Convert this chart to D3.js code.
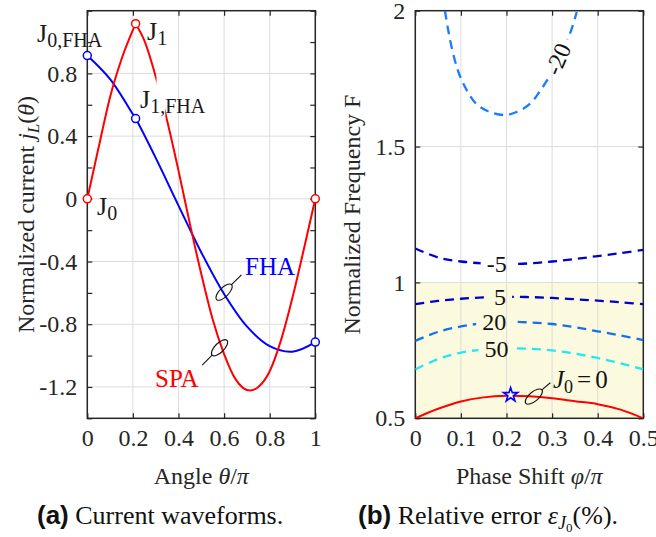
<!DOCTYPE html>
<html><head><meta charset="utf-8">
<script src="https://cdn.jsdelivr.net/npm/d3@7"></script>
<style>
body{margin:0;background:#fff}
svg{display:block}
text{font-family:"Liberation Serif","Times New Roman",serif;fill:#262626}
</style></head><body>
<svg id="c" width="656" height="537"></svg>
<script>
// ---------- (a) Current waveforms ----------
const thetaFHA = [0, 0.1, 0.2, 0.212, 0.3, 0.4, 0.5, 0.6, 0.7, 0.8, 0.9, 1.0];
const jFHA     = [0.914, 0.763, 0.539, 0.512, 0.261, -0.043, -0.342, -0.607, -0.814, -0.940, -0.975, -0.914];
const thetaSPArise = [0, 0.05, 0.1, 0.15, 0.212];
const jSPArise     = [0, 0.33, 0.65, 0.89, 1.117];
const thetaSPAfall = [0.212, 0.25, 0.30, 0.35, 0.40, 0.45, 0.50, 0.55, 0.60, 0.65, 0.714, 0.75, 0.80, 0.85, 0.90, 0.95, 1.0];
const jSPAfall     = [1.117, 1.01, 0.78, 0.50, 0.18, -0.16, -0.48, -0.77, -0.99, -1.15, -1.223, -1.20, -1.10, -0.90, -0.63, -0.32, 0];
const markThetaSPA = [0, 0.212, 1];
const markJSPA     = [0, 1.117, 0];
const markThetaFHA = [0, 0.212, 1];
const markJFHA     = [0.914, 0.512, -0.914];
const xTicksA  = [0, 0.2, 0.4, 0.6, 0.8, 1];
const xLabelsA = ["0", "0.2", "0.4", "0.6", "0.8", "1"];
const yMajorA  = [-1.2, -0.8, -0.4, 0, 0.4, 0.8];
const yLabelsA = ["-1.2", "-0.8", "-0.4", "0", "0.4", "0.8"];
const yMinorA  = [-1.4, -1.2, -1.0, -0.8, -0.6, -0.4, -0.2, 0, 0.2, 0.4, 0.6, 0.8, 1.0, 1.2];

// ---------- (b) Relative error contours ----------
const phiGrid = [0, 0.05, 0.1, 0.15, 0.2, 0.25, 0.3, 0.35, 0.4, 0.45, 0.5];
const F_m5  = [1.125, 1.092, 1.077, 1.070, 1.068, 1.070, 1.077, 1.086, 1.097, 1.108, 1.12];
const F_p5  = [0.920, 0.932, 0.940, 0.945, 0.947, 0.946, 0.943, 0.938, 0.933, 0.927, 0.920];
const F_p20 = [0.785, 0.818, 0.838, 0.850, 0.855, 0.853, 0.847, 0.835, 0.820, 0.805, 0.788];
const F_p50 = [0.680, 0.718, 0.742, 0.753, 0.757, 0.756, 0.750, 0.738, 0.722, 0.702, 0.680];
const F_J0  = [0.500, 0.535, 0.562, 0.577, 0.583, 0.581, 0.574, 0.563, 0.552, 0.532, 0.500];
const phiM20 = [0.065, 0.072, 0.083, 0.096, 0.113, 0.135, 0.164, 0.197, 0.222, 0.252, 0.277, 0.305, 0.325, 0.339, 0.354];
const F_m20  = [2.0, 1.93, 1.842, 1.768, 1.707, 1.655, 1.627, 1.616, 1.627, 1.658, 1.713, 1.79, 1.868, 1.915, 1.995];
const starPhi = [0.209];
const starF   = [0.586];
const xTicksB  = [0, 0.1, 0.2, 0.3, 0.4, 0.5];
const xLabelsB = ["0", "0.1", "0.2", "0.3", "0.4", "0.5"];
const yTicksB  = [0.5, 1, 1.5, 2];
const yLabelsB = ["0.5", "1", "1.5", "2"];
const zoneF = [0.5, 1.0];

const svg = d3.select("#c");
const AX = "#262626", GRID = "#dcdcdc";
const FS = 24;

const xA = d3.scaleLinear().domain([0, 1]).range([87.3, 315.3]);
const yA = d3.scaleLinear().domain([-1.4, 1.2]).range([418.3, 10.7]);
const xB = d3.scaleLinear().domain([0, 0.5]).range([415.3, 643.3]);
const yB = d3.scaleLinear().domain([0.5, 2]).range([418.3, 10.7]);

const defs = svg.append("defs");

function frame(x, y, xTicks, xLabels, yTicks, yMajor, yLabels, gridY) {
  const g = svg.append("g");
  const [x0, x1] = x.range(), [y0, y1] = y.range();
  g.selectAll(".gx").data(xTicks).join("line")
    .attr("x1", d => x(d)).attr("x2", d => x(d)).attr("y1", y0).attr("y2", y1)
    .attr("stroke", GRID).attr("stroke-width", 1);
  g.selectAll(".gy").data(gridY).join("line")
    .attr("y1", d => y(d)).attr("y2", d => y(d)).attr("x1", x0).attr("x2", x1)
    .attr("stroke", GRID).attr("stroke-width", 1);
  g.append("rect").attr("x", x0).attr("y", y1).attr("width", x1 - x0).attr("height", y0 - y1)
    .attr("fill", "none").attr("stroke", AX).attr("stroke-width", 1.5);
  const lab = (arr, vals) => d => { const i = vals.findIndex(v => Math.abs(v - d) < 1e-9); return i < 0 ? "" : arr[i]; };
  const style = sel => { sel.attr("font-family", null).attr("font-size", null);
    sel.select(".domain").remove();
    sel.selectAll("line").attr("stroke", AX).attr("stroke-width", 1.2);
    sel.selectAll("text").style("font-size", FS + "px").attr("fill", AX); };
  g.append("g").attr("transform", `translate(0,${y0})`)
    .call(d3.axisBottom(x).tickValues(xTicks).tickSizeInner(-5).tickSizeOuter(0).tickPadding(11).tickFormat(lab(xLabels, xTicks))).call(style);
  g.append("g").attr("transform", `translate(0,${y1})`)
    .call(d3.axisTop(x).tickValues(xTicks).tickSizeInner(-5).tickSizeOuter(0).tickFormat("")).call(style);
  g.append("g").attr("transform", `translate(${x0},0)`)
    .call(d3.axisLeft(y).tickValues(yTicks).tickSizeInner(-5).tickSizeOuter(0).tickPadding(10).tickFormat(lab(yLabels, yMajor))).call(style);
  g.append("g").attr("transform", `translate(${x1},0)`)
    .call(d3.axisRight(y).tickValues(yTicks).tickSizeInner(-5).tickSizeOuter(0).tickFormat("")).call(style);
  return g;
}

// ---- right panel background zone (drawn first) ----
svg.append("rect").attr("x", xB(0)).attr("width", xB(0.5) - xB(0))
  .attr("y", yB(zoneF[1])).attr("height", yB(zoneF[0]) - yB(zoneF[1]))
  .attr("fill", "#fcfade");

frame(xA, yA, xTicksA, xLabelsA, yMinorA, yMajorA, yLabelsA, yMajorA);
frame(xB, yB, xTicksB, xLabelsB, yTicksB, yTicksB, yLabelsB, [1, 1.5]);

// ---- left curves ----
const zip = (a, b) => a.map((v, i) => [v, b[i]]);
const lineA = d3.line().x(d => xA(d[0])).y(d => yA(d[1])).curve(d3.curveCatmullRom.alpha(0.5));
const lineAm = d3.line().x(d => xA(d[0])).y(d => yA(d[1])).curve(d3.curveMonotoneX);

// mask for the gap in SPA curve near J1,FHA label
const mA = defs.append("mask").attr("id", "gapA").attr("maskUnits", "userSpaceOnUse")
  .attr("x", 0).attr("y", 0).attr("width", 656).attr("height", 537);
mA.append("rect").attr("width", 656).attr("height", 537).attr("fill", "#fff");
mA.append("rect").attr("x", xA(0.3035)).attr("width", xA(0.342) - xA(0.3035))
  .attr("y", yA(0.82)).attr("height", yA(0.45) - yA(0.82)).attr("fill", "#000");

svg.append("path").datum(zip(thetaFHA, jFHA)).attr("d", lineA)
  .attr("fill", "none").attr("stroke", "#0000ff").attr("stroke-width", 2);
const gSPA = svg.append("g").attr("mask", "url(#gapA)");
gSPA.append("path").datum(zip(thetaSPArise, jSPArise)).attr("d", lineAm)
  .attr("fill", "none").attr("stroke", "#ff0000").attr("stroke-width", 2);
gSPA.append("path").datum(zip(thetaSPAfall, jSPAfall)).attr("d", lineAm)
  .attr("fill", "none").attr("stroke", "#ff0000").attr("stroke-width", 2).attr("stroke-linejoin", "round");

svg.selectAll(".mS").data(zip(markThetaSPA, markJSPA)).join("circle")
  .attr("cx", d => xA(d[0])).attr("cy", d => yA(d[1])).attr("r", 4)
  .attr("fill", "#fff").attr("stroke", "#ff0000").attr("stroke-width", 1.5);
svg.selectAll(".mF").data(zip(markThetaFHA, markJFHA)).join("circle")
  .attr("cx", d => xA(d[0])).attr("cy", d => yA(d[1])).attr("r", 4)
  .attr("fill", "#fff").attr("stroke", "#0000ff").attr("stroke-width", 1.5);

// annotation labels (a)
function jlabel(x, y, sub, color) {
  const t = svg.append("text").attr("x", x).attr("y", y).style("font-size", "26px").style("fill", color || "#1a1a1a");
  t.append("tspan").text("J");
  t.append("tspan").attr("dy", 5).style("font-size", "20px").text(sub);
  return t;
}
jlabel(37, 42, "0,FHA");
jlabel(147, 40, "1");
jlabel(140, 108, "1,FHA");
jlabel(97, 215, "0");
svg.append("text").attr("x", 245).attr("y", 275).style("font-size", "25px").style("fill", "#0000ff").text("FHA");
svg.append("text").attr("x", 155).attr("y", 387).style("font-size", "25px").style("fill", "#ff0000").text("SPA");

function ellipseNote(cx, cy, ang, dir, len) {
  svg.append("ellipse").attr("cx", 0).attr("cy", 0).attr("rx", 10.5).attr("ry", 4.6)
    .attr("transform", `translate(${cx},${cy}) rotate(${ang})`)
    .attr("fill", "none").attr("stroke", "#111").attr("stroke-width", 1.1);
  const a = ang * Math.PI / 180;
  const sx = cx + dir * 10.5 * Math.cos(a), sy = cy + dir * 10.5 * Math.sin(a);
  svg.append("line").attr("x1", sx).attr("y1", sy)
    .attr("x2", sx + dir * len * Math.cos(a)).attr("y2", sy + dir * len * Math.sin(a))
    .attr("stroke", "#111").attr("stroke-width", 1.1);
}
ellipseNote(xA(0.6), yA(-0.595), -45, 1, 14);
ellipseNote(xA(0.58), yA(-0.95), -45, -1, 14);

// ---- right panel contours ----
const lineB = d3.line().x(d => xB(d[0])).y(d => yB(d[1])).curve(d3.curveCatmullRom.alpha(0.5));
const mB = defs.append("mask").attr("id", "gapB").attr("maskUnits", "userSpaceOnUse")
  .attr("x", 0).attr("y", 0).attr("width", 656).attr("height", 537);
mB.append("rect").attr("width", 656).attr("height", 537).attr("fill", "#fff");
const clipB = defs.append("clipPath").attr("id", "clipB");
clipB.append("rect").attr("x", xB(0)).attr("y", yB(2)).attr("width", xB(0.5) - xB(0)).attr("height", yB(0.5) - yB(2));

const gC = svg.append("g").attr("mask", "url(#gapB)").attr("clip-path", "url(#clipB)");
const contours = [
  {phi: phiM20, F: F_m20, color: "#1a7cff", label: "-20", at: 0.313},
  {phi: phiGrid, F: F_m5, color: "#0000c8", label: "-5", at: 0.1785},
  {phi: phiGrid, F: F_p5, color: "#0000c8", label: "5", at: 0.186},
  {phi: phiGrid, F: F_p20, color: "#1470f0", label: "20", at: 0.173},
  {phi: phiGrid, F: F_p50, color: "#22e8f2", label: "50", at: 0.178}
];
contours.forEach(c => {
  gC.append("path").datum(zip(c.phi, c.F)).attr("d", lineB)
    .attr("fill", "none").attr("stroke", c.color).attr("stroke-width", 2.3)
    .attr("stroke-dasharray", "9,6");
  let px, py, ang = 0;
  if (c.label === "-20") {
    const i = c.phi.findIndex(v => v > c.at);
    const t = (c.at - c.phi[i - 1]) / (c.phi[i] - c.phi[i - 1]);
    const f = c.F[i - 1] + t * (c.F[i] - c.F[i - 1]);
    px = xB(c.at); py = yB(f);
    ang = Math.atan2(yB(c.F[i]) - yB(c.F[i - 1]), xB(c.phi[i]) - xB(c.phi[i - 1])) * 180 / Math.PI;
  } else {
    const f = d3.scaleLinear().domain(c.phi).range(c.F)(c.at);
    px = xB(c.at); py = yB(f);
  }
  const t = svg.append("text").attr("text-anchor", "middle").attr("dy", "0.33em")
    .attr("transform", `translate(${px},${py}) rotate(${ang})`)
    .style("font-size", FS + "px").style("fill", "#111").text(c.label);
  const bb = t.node().getBBox();
  mB.append("rect").attr("x", bb.x - 6).attr("y", bb.y).attr("width", bb.width + 12).attr("height", bb.height)
    .attr("transform", `translate(${px},${py}) rotate(${ang})`).attr("fill", "#000");
});
gC.append("path").datum(zip(phiGrid, F_J0)).attr("d", lineB)
  .attr("fill", "none").attr("stroke", "#ff0000").attr("stroke-width", 2);

svg.selectAll(".star").data(zip(starPhi, starF)).join("path")
  .attr("transform", d => `translate(${xB(d[0])},${yB(d[1])})`)
  .attr("d", d3.symbol(d3.symbolStar, 62)())
  .attr("fill", "#fff").attr("stroke", "#0000ff").attr("stroke-width", 1.6);

ellipseNote(xB(0.26), yB(0.58), -40, 1, 11);
{
  const t = svg.append("text").attr("x", 553).attr("y", 388).style("font-size", "25px").style("fill", "#111");
  t.append("tspan").style("font-style", "italic").text("J");
  t.append("tspan").attr("dy", 5).style("font-size", "18px").text("0");
  t.append("tspan").attr("dy", -5).attr("dx", 4).text("=");
  t.append("tspan").attr("dx", 4).text("0");
}

// ---- axis titles ----
function title(x, y, rot, parts) {
  const t = svg.append("text").attr("text-anchor", "middle")
    .attr("transform", `translate(${x},${y}) rotate(${rot})`).style("font-size", FS + "px").style("fill", "#262626");
  parts.forEach(p => {
    const s = t.append("tspan").text(p.t);
    if (p.i) s.style("font-style", "italic");
    if (p.sub) s.attr("dy", 5).style("font-size", "17px");
    if (p.up) s.attr("dy", -5);
  });
}
title(201.3, 484, 0, [{t: "Angle "}, {t: "θ", i: 1}, {t: "/"}, {t: "π", i: 1}]);
title(529.3, 484, 0, [{t: "Phase Shift "}, {t: "φ", i: 1}, {t: "/"}, {t: "π", i: 1}]);
title(34, 214.5, -90, [{t: "Normalized current "}, {t: "j", i: 1}, {t: "L", i: 1, sub: 1}, {t: "(", up: 1}, {t: "θ", i: 1}, {t: ")"}]);
title(360, 214.5, -90, [{t: "Normalized Frequency F"}]);

// ---- captions ----
function caption(x, y, letter, parts) {
  const t = svg.append("text").attr("x", x).attr("y", y).style("font-size", "26px").style("fill", "#111");
  t.append("tspan").style("font-family", "'Liberation Sans', Arial, sans-serif").style("font-weight", "bold").text(letter);
  parts.forEach(p => {
    const s = t.append("tspan").text(p.t);
    if (p.i) s.style("font-style", "italic");
    if (p.dy) s.attr("dy", p.dy);
    if (p.fs) s.style("font-size", p.fs);
  });
}
caption(37, 524, "(a)", [{t: " Current waveforms."}]);
caption(358, 524, "(b)", [{t: " Relative error "}, {t: "ε", i: 1}, {t: "J", i: 1, dy: 5, fs: "18px"}, {t: "0", dy: 3, fs: "13px"}, {t: "(%).", dy: -8}]);
</script>
</body></html>
